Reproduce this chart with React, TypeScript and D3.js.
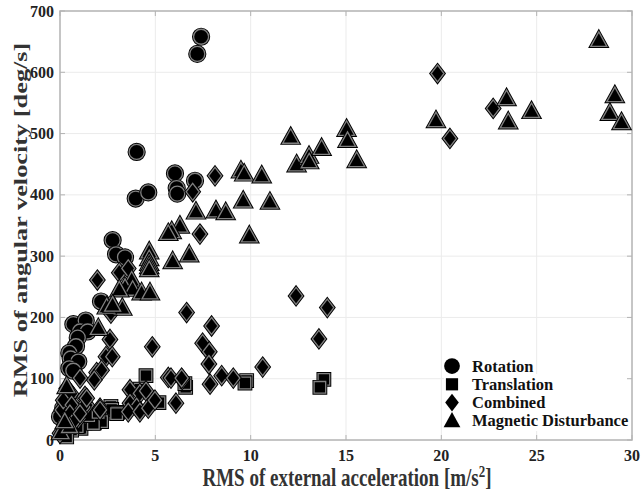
import React from "react";
import * as d3 from "d3";

// [x = RMS external acceleration (m/s^2), y = RMS angular velocity (deg/s)]
const rotation: [number, number][] = [
  [7.4, 658], [7.2, 630], [4.02, 470], [3.97, 394], [4.63, 404], [6.03, 435],
  [6.12, 411], [6.15, 402], [7.08, 423], [2.76, 326], [2.94, 303], [3.41, 298],
  [2.15, 226], [0.7, 189], [1.35, 195], [1.05, 177], [1.45, 177], [0.93, 167],
  [0.84, 153], [0.49, 142], [0.56, 133], [0.96, 128], [0.49, 117], [0.7, 113],
  [0.0, 38], [0.17, 52], [0.3, 25],
];

const translation: [number, number][] = [
  [4.51, 105], [6.59, 86], [6.55, 92], [5.19, 61], [2.67, 55], [2.71, 50], [3.02, 45],
  [1.8, 28], [2.18, 30], [1.31, 28], [1.1, 19], [4.19, 83], [9.79, 97], [9.7, 93],
  [13.84, 99], [13.63, 86], [0.61, 16], [0.35, 5], [1.75, 27], [0.9, 22],
  [2.97, 43], [1.5, 40], [2.0, 45],
];

const combined: [number, number][] = [
  [1.96, 261], [3.11, 273], [3.58, 280], [2.67, 207], [2.62, 164], [2.41, 136],
  [2.74, 136], [4.84, 152], [6.64, 208], [1.92, 110], [2.18, 114], [1.8, 98],
  [1.05, 101], [0.35, 84], [0.58, 75], [1.31, 71], [3.67, 82], [4.19, 76],
  [4.51, 80], [3.67, 60], [4.02, 54], [3.58, 46], [4.19, 46], [4.63, 52],
  [4.98, 65], [5.68, 102], [5.82, 101], [6.41, 99], [6.08, 60], [2.1, 52],
  [1.4, 57], [0.87, 52], [0.52, 54], [0.09, 49], [0.7, 38], [0.35, 27],
  [0.0, 11], [1.22, 54], [0.96, 35], [0.17, 65], [0.61, 57], [0.52, 43],
  [0.79, 33], [1.05, 43], [1.4, 68], [2.1, 49],
  [8.13, 431], [6.96, 405], [7.34, 336], [7.95, 186], [7.48, 158],
  [7.83, 144], [7.81, 124], [8.48, 105], [9.09, 101], [7.87, 91], [10.63, 119],
  [12.38, 235], [14.02, 216], [13.58, 165], [6.38, 101],
  [19.8, 598], [22.72, 541], [20.45, 492],
];

const magnetic: [number, number][] = [
  [28.26, 652], [23.42, 557], [24.73, 536], [23.51, 519], [19.72, 521],
  [29.1, 562], [28.84, 533], [29.45, 518], [12.1, 494], [12.41, 449],
  [13.06, 463], [13.07, 454], [13.72, 476], [15.03, 507], [15.08, 489],
  [15.56, 456], [9.49, 439], [9.66, 434], [10.58, 431], [9.61, 390],
  [11.01, 388], [7.13, 372], [8.18, 374], [8.69, 371], [6.29, 349],
  [9.93, 333], [6.78, 302], [5.86, 340], [5.68, 337], [5.91, 291],
  [4.68, 307], [4.68, 296], [4.68, 288], [4.68, 283], [4.68, 278],
  [3.76, 261], [3.41, 249], [3.81, 246], [3.11, 245], [4.28, 240],
  [4.72, 240], [2.8, 219], [3.27, 215], [2.45, 217], [2.76, 220],
  [2.01, 182], [0.35, 87], [0.05, 12], [0.5, 22], [0.25, 30],
];

const xTicks = [0, 5, 10, 15, 20, 25, 30];
const yTicks = [0, 100, 200, 300, 400, 500, 600, 700];
const legendLabels = ["Rotation", "Translation", "Combined", "Magnetic Disturbance"];

const W = 643;
const H = 495;
const margin = { left: 60, right: 11, top: 11, bottom: 55 };

type Shape = "circle" | "square" | "diamond" | "triangle";

function shapePath(shape: Shape, s = 1): string {
  const p = d3.path();
  if (shape === "circle") {
    p.arc(0, 0, 7.5 * s, 0, Math.PI * 2);
  } else if (shape === "square") {
    const h = 5.8 * s;
    p.rect(-h, -h, 2 * h, 2 * h);
  } else if (shape === "diamond") {
    const w = 6.5 * s, h = 8.5 * s;
    p.moveTo(0, -h); p.lineTo(w, 0); p.lineTo(0, h); p.lineTo(-w, 0);
  } else {
    const w = 8 * s;
    p.moveTo(0, -8.5 * s); p.lineTo(w, 6 * s); p.lineTo(-w, 6 * s);
  }
  p.closePath();
  return p.toString();
}

const series: { shape: Shape; data: [number, number][] }[] = [
  { shape: "circle", data: rotation },
  { shape: "square", data: translation },
  { shape: "diamond", data: combined },
  { shape: "triangle", data: magnetic },
];

export default function App() {
  const x = d3.scaleLinear().domain([0, 30]).range([margin.left, W - margin.right]);
  const y = d3.scaleLinear().domain([0, 700]).range([H - margin.bottom, margin.top]);
  const [x0, x1] = x.range();
  const [y0, y1] = y.range();
  const font = "'Liberation Serif', 'Times New Roman', serif";
  const axisColor = "#b3b3b3";

  return (
    <svg width={W} height={H} style={{ position: "absolute", left: 0, top: 0, background: "#fff" }}>
      <rect x={0} y={0} width={W} height={H} fill="#fff" />
      {/* grid */}
      {xTicks.slice(1, -1).map((t) => (
        <line key={"gx" + t} x1={x(t)} x2={x(t)} y1={y0} y2={y1} stroke="#ebebeb" strokeWidth={1} />
      ))}
      {yTicks.slice(1, -1).map((t) => (
        <line key={"gy" + t} x1={x0} x2={x1} y1={y(t)} y2={y(t)} stroke="#ebebeb" strokeWidth={1} />
      ))}
      {/* legend background */}
      <rect x={444} y={374} width={186} height={57} fill="#fff" />
      {/* ticks */}
      {xTicks.map((t) => (
        <g key={"tx" + t}>
          <line x1={x(t)} x2={x(t)} y1={y0} y2={y0 - 5} stroke={axisColor} strokeWidth={1} />
          <line x1={x(t)} x2={x(t)} y1={y1} y2={y1 + 5} stroke={axisColor} strokeWidth={1} />
        </g>
      ))}
      {yTicks.map((t) => (
        <g key={"ty" + t}>
          <line x1={x0} x2={x0 + 5} y1={y(t)} y2={y(t)} stroke={axisColor} strokeWidth={1} />
          <line x1={x1} x2={x1 - 5} y1={y(t)} y2={y(t)} stroke={axisColor} strokeWidth={1} />
        </g>
      ))}
      <rect x={x0} y={y1} width={x1 - x0} height={y0 - y1} fill="none" stroke={axisColor} strokeWidth={1.5} />
      {/* tick labels */}
      {xTicks.map((t) => (
        <text key={"lx" + t} x={x(t)} y={461} textAnchor="middle" fontFamily={font}
          fontWeight="bold" fontSize={16} fill="#222">{t}</text>
      ))}
      {yTicks.map((t) => (
        <text key={"ly" + t} x={x0 - 6} y={y(t) + 5.5} textAnchor="end" fontFamily={font}
          fontWeight="bold" fontSize={16} fill="#222">{t}</text>
      ))}
      {/* axis titles */}
      <g transform={`translate(347,486) scale(1,1.3)`}>
        <text x={0} y={0} textAnchor="middle" fontFamily={font} fontWeight="bold" fontSize={19} fill="#333">
          RMS of external acceleration [m/s<tspan dy={-7} fontSize={13}>2</tspan><tspan dy={7}>]</tspan>
        </text>
      </g>
      <g transform={`translate(27,220) rotate(-90) scale(1.35,1)`}>
        <text x={0} y={0} textAnchor="middle" fontFamily={font} fontWeight="bold" fontSize={19.5} fill="#333">
          RMS of angular velocity [deg/s]
        </text>
      </g>
      {/* points */}
      {series.map((s) => (
        <g key={s.shape}>
          {s.data.map((d, i) => (
            <g key={i} transform={`translate(${x(d[0])},${y(d[1])})`}>
              <path d={shapePath(s.shape)} fill="#000" stroke="#000" strokeWidth={3.2} strokeLinejoin="miter" />
              <path d={shapePath(s.shape)} fill="#000" stroke="#808080" strokeWidth={1.3} />
            </g>
          ))}
        </g>
      ))}
      {/* legend */}
      {series.map((s, i) => (
        <g key={"leg" + i} transform={`translate(452,${366 + i * 18.3})`}>
          <path d={shapePath(s.shape, 1.05)} fill="#000" />
          <text x={20} y={5.5} fontFamily={font} fontWeight="bold" fontSize={16.5} fill="#111">
            {legendLabels[i]}
          </text>
        </g>
      ))}
    </svg>
  );
}
